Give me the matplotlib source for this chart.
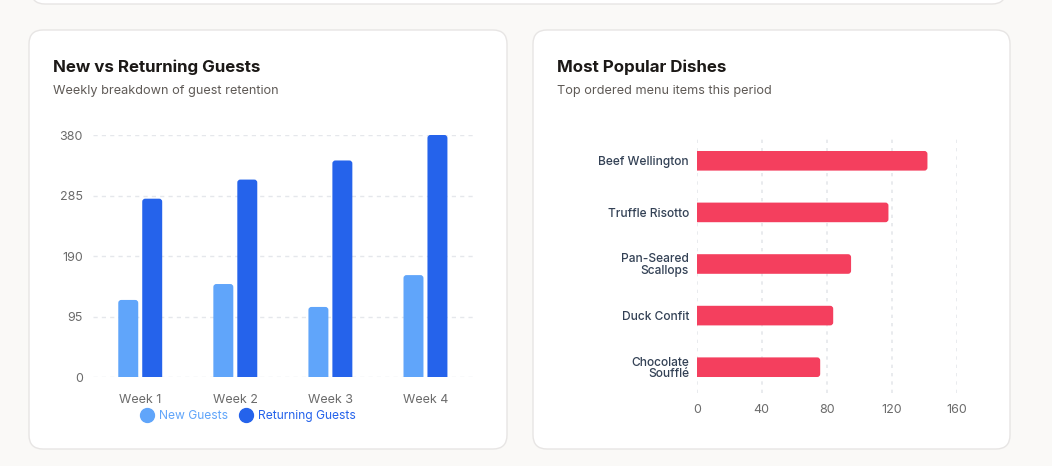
import matplotlib
matplotlib.use("Agg")
import matplotlib.pyplot as plt
from matplotlib.patches import FancyBboxPatch
from matplotlib.lines import Line2D
import numpy as np

plt.rcParams['font.family'] = ['Inter', 'DejaVu Sans']

# ---- data ----
weeks = ["Week 1", "Week 2", "Week 3", "Week 4"]
new_guests = [121, 146, 110, 160]
returning_guests = [280, 310, 340, 380]
guest_ticks = [0, 95, 190, 285, 380]

dishes = ["Beef Wellington", "Truffle Risotto", "Pan-Seared\nScallops", "Duck Confit", "Chocolate\nSoufflé"]
dish_orders = [142, 118, 95, 84, 76]
dish_ticks = [0, 40, 80, 120, 160]

# ---- style ----
BG = "#faf9f7"
CARD = "#ffffff"
BORDER = "#e7e5e4"
C_NEW = "#60a5fa"
C_RET = "#2563eb"
C_DISH = "#f43f5e"
GRID = "#e5e7eb"
TICK = "#6b6b6b"
TITLE = "#1c1917"
SUB = "#5f5a56"

W, H = 1052, 466
fig = plt.figure(figsize=(W / 100, H / 100), dpi=100, facecolor=BG)

def card(x0, y0, x1, y1):
    # pixel coords measured from top
    p = FancyBboxPatch((x0, H - y1), x1 - x0, y1 - y0,
                       boxstyle="round,pad=0,rounding_size=14",
                       transform=None, facecolor=CARD, edgecolor=BORDER,
                       linewidth=1.0, zorder=-10)
    fig.patches.append(p)

card(31, -40, 1006, 4)
card(29, 30, 507, 449)
card(533, 30, 1010, 449)

def px(x, y):
    return x / W, 1 - y / H

def round_bars(ax, bars, horizontal=False, radius_px=3):
    """Replace rectangles by rounded boxes (rounded at the value end)."""
    fig.canvas.draw()
    inv = ax.transData.inverted()
    p0 = inv.transform((0, 0))
    p1 = inv.transform((1, 1))
    ux, uy = abs(p1[0] - p0[0]), abs(p1[1] - p0[1])
    for r in bars:
        x0, y0 = r.get_x(), r.get_y()
        w, h = r.get_width(), r.get_height()
        if horizontal:
            x0 -= radius_px * ux
            w += radius_px * ux
        else:
            y0 -= radius_px * uy
            h += radius_px * uy
        fb = FancyBboxPatch((x0, y0), w, h,
                            boxstyle=f"round,pad=0,rounding_size={radius_px * ux}",
                            mutation_aspect=uy / ux,
                            facecolor=r.get_facecolor(), edgecolor="none",
                            zorder=r.get_zorder())
        r.set_visible(False)
        ax.add_patch(fb)

# titles
fig.text(*px(53, 67), "New vs Returning Guests", fontsize=12.2, fontweight="bold",
         color=TITLE, va="center", ha="left")
fig.text(*px(53, 91), "Weekly breakdown of guest retention", fontsize=9.15,
         color=SUB, va="center", ha="left")
fig.text(*px(557, 67), "Most Popular Dishes", fontsize=12.2, fontweight="bold",
         color=TITLE, va="center", ha="left")
fig.text(*px(557, 91), "Top ordered menu items this period", fontsize=9.15,
         color=SUB, va="center", ha="left")

# ---- left chart ----
axL = fig.add_axes([92.7 / W, 1 - 377 / H, 380.3 / W, 242 / H])
axL.set_facecolor("none")
x = np.arange(len(weeks))
bw = 0.21
off = 0.126
b1 = axL.bar(x - off, new_guests, width=bw, color=C_NEW, zorder=3)
b2 = axL.bar(x + off, returning_guests, width=bw, color=C_RET, zorder=3)
axL.set_xlim(-0.5, len(weeks) - 0.5)
axL.set_ylim(0, 380)
axL.set_yticks(guest_ticks)
axL.set_yticklabels([str(t) for t in guest_ticks])
axL.set_xticks(x)
axL.set_xticklabels(weeks)
axL.tick_params(axis="y", length=0, pad=7, labelsize=9, labelcolor=TICK)
axL.tick_params(axis="x", length=0, pad=12, labelsize=9, labelcolor=TICK)
for s in axL.spines.values():
    s.set_visible(False)
axL.yaxis.grid(True, color=GRID, linestyle=(0, (3, 3)), linewidth=1, zorder=0)
axL.set_axisbelow(True)

handles = [Line2D([], [], marker="o", linestyle="", markersize=10, color=C_NEW),
           Line2D([], [], marker="o", linestyle="", markersize=10, color=C_RET)]
leg = fig.legend(handles, ["New Guests", "Returning Guests"], loc="center",
                 bbox_to_anchor=px(248, 416), ncol=2, frameon=False,
                 fontsize=8.7, handletextpad=0.5, columnspacing=1.0,
                 handlelength=1.0, labelcolor=[C_NEW, C_RET])

# ---- right chart ----
axR = fig.add_axes([696.7 / W, 1 - 393 / H, 260 / W, 258 / H])
axR.set_facecolor("none")
y = np.arange(len(dishes))
b3 = axR.barh(y, dish_orders, height=0.38, color=C_DISH, zorder=3)
axR.set_ylim(len(dishes) - 0.5, -0.5)
axR.set_xlim(0, 160)
axR.set_xticks(dish_ticks)
axR.set_xticklabels([str(t) for t in dish_ticks])
axR.set_yticks(y)
axR.set_yticklabels(dishes, linespacing=0.95, fontweight=500)
axR.tick_params(axis="x", length=0, pad=8, labelsize=9, labelcolor=TICK)
axR.tick_params(axis="y", length=0, pad=5.5, labelsize=8.6, labelcolor="#334155")
for s in axR.spines.values():
    s.set_visible(False)
axR.xaxis.grid(True, color=GRID, linestyle=(0, (2, 3)), linewidth=1.2, zorder=0)
axR.set_axisbelow(True)

round_bars(axL, list(b1) + list(b2), horizontal=False)
round_bars(axR, list(b3), horizontal=True)

fig.savefig("out.png", dpi=100, facecolor=BG)
